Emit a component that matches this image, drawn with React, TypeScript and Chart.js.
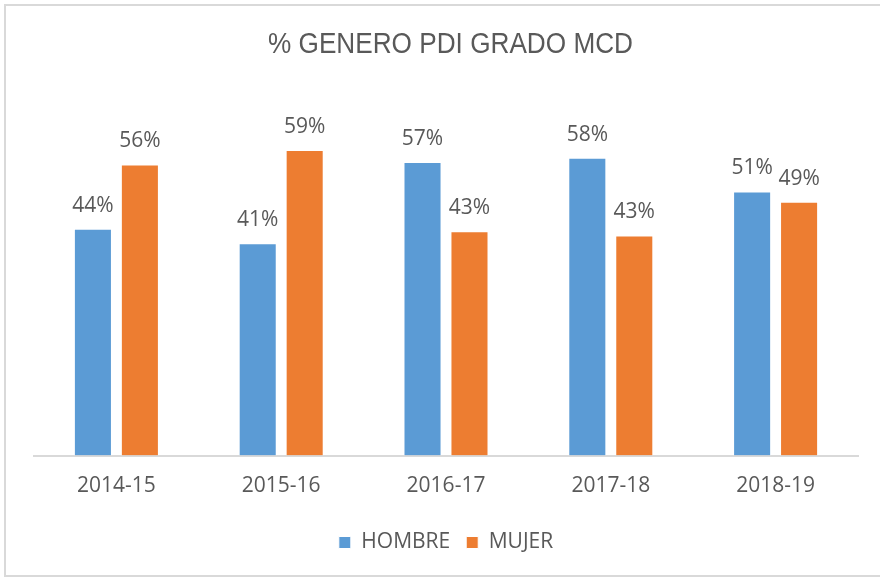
import React, { useEffect, useRef } from "react";
import { Chart, registerables } from "chart.js";

Chart.register(...registerables);

const categories = ["2014-15", "2015-16", "2016-17", "2017-18", "2018-19"];
const hombre = [43.8, 41.0, 56.7, 57.5, 51.0];
const mujer = [56.2, 59.0, 43.3, 42.5, 49.0];
const seriesNames = ["HOMBRE", "MUJER"];
const titleText = "% GENERO PDI GRADO MCD";

const BLUE = "#5B9BD5";
const ORANGE = "#ED7D31";
const TEXT = "#595959";
const FONT = "'Open Sans', 'Noto Sans', sans-serif";

const titlePlugin = {
  id: "customTitle",
  afterDraw(chart: any) {
    const ctx = chart.ctx;
    ctx.save();
    ctx.font = "30px 'Liberation Sans', Arial, sans-serif";
    const w = ctx.measureText(titleText).width;
    const sx = 365 / w;
    ctx.translate(450.5, 53);
    ctx.scale(sx, 1);
    ctx.fillStyle = TEXT;
    ctx.textAlign = "center";
    ctx.textBaseline = "alphabetic";
    ctx.fillText(titleText, 0, 0);
    ctx.restore();
  },
};

const labelPlugin = {
  id: "barLabels",
  afterDatasetsDraw(chart: any) {
    const ctx = chart.ctx;
    ctx.save();
    ctx.font = "21px " + FONT;
    ctx.fillStyle = TEXT;
    ctx.textAlign = "center";
    ctx.textBaseline = "alphabetic";
    chart.data.datasets.forEach((ds: any, i: number) => {
      const meta = chart.getDatasetMeta(i);
      meta.data.forEach((el: any, j: number) => {
        const v = ds.data[j];
        ctx.fillText(Math.round(v) + "%", el.x, el.y - 17);
      });
    });
    ctx.restore();
  },
};

export default function App() {
  const ref = useRef<HTMLCanvasElement>(null);
  useEffect(() => {
    document.body.style.margin = "0";
    document.body.style.overflow = "hidden";
    const chart = new Chart(ref.current as HTMLCanvasElement, {
      type: "bar",
      data: {
        labels: categories,
        datasets: [
          {
            label: seriesNames[0],
            data: hombre,
            backgroundColor: BLUE,
            borderColor: "#ffffff",
            borderWidth: 1,
            categoryPercentage: 0.57,
            barPercentage: 0.81,
          },
          {
            label: seriesNames[1],
            data: mujer,
            backgroundColor: ORANGE,
            borderColor: "#ffffff",
            borderWidth: 1,
            categoryPercentage: 0.57,
            barPercentage: 0.81,
          },
        ],
      },
      options: {
        animation: false,
        responsive: false,
        layout: { padding: { top: 93, left: 34, right: 22, bottom: 14 } },
        plugins: {
          title: { display: false },
          tooltip: { enabled: false },
          legend: {
            display: true,
            position: "bottom",
            labels: {
              color: TEXT,
              font: { family: FONT, size: 21 },
              boxWidth: 12,
              boxHeight: 12,
              padding: 16,
            },
          },
        },
        scales: {
          x: {
            grid: { display: false, drawTicks: false },
            border: { display: true, color: "#d9d9d9", width: 2 },
            ticks: { color: TEXT, font: { family: FONT, size: 21, lineHeight: 0.88 }, padding: 21 },
          },
          y: {
            display: false,
            min: 0,
            max: 70,
          },
        },
      },
      plugins: [titlePlugin, labelPlugin],
    });
    return () => chart.destroy();
  }, []);
  return (
    <div style={{ position: "fixed", left: 0, top: 0, width: 880, height: 577, background: "#fff" }}>
      <canvas ref={ref} width={880} height={577} style={{ display: "block" }} />
      <div
        style={{
          position: "absolute",
          left: 4,
          top: 4,
          width: 880,
          height: 573,
          boxSizing: "border-box",
          border: "2px solid #d9d9d9",
          pointerEvents: "none",
        }}
      />
    </div>
  );
}
